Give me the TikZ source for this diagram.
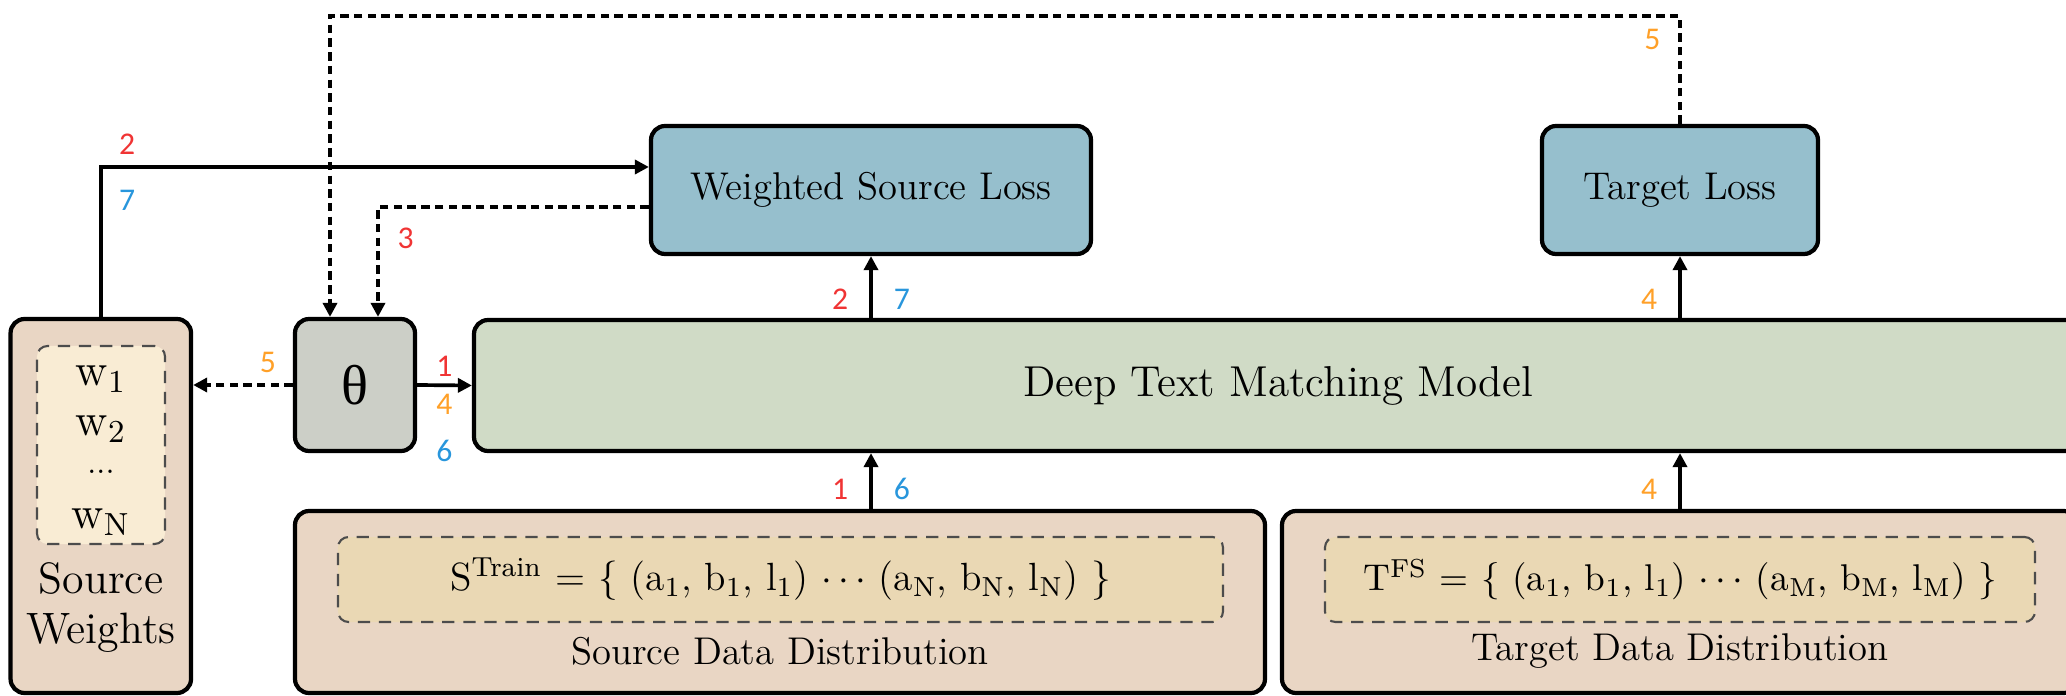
\documentclass[tikz,border=0pt]{standalone}
\usepackage{fontspec}
\usepackage{tikz}
\usetikzlibrary{arrows.meta}
\newfontfamily\numfont{Carlito}
\newfontfamily\greekfont{Liberation Serif}

\definecolor{lossblue}{RGB}{150,191,205}
\definecolor{modelgreen}{RGB}{208,219,198}
\definecolor{thetagray}{RGB}{204,207,199}
\definecolor{datatan}{RGB}{233,214,196}
\definecolor{setbeige}{RGB}{234,216,180}
\definecolor{weightcream}{RGB}{249,236,212}
\definecolor{stepred}{RGB}{240,52,52}
\definecolor{steporange}{RGB}{255,160,40}
\definecolor{stepblue}{RGB}{40,150,220}

\begin{document}
\begin{tikzpicture}[
    box/.style={draw,line width=1.2pt,rounded corners=4pt,align=center,inner sep=0pt},
    setbox/.style={draw=black!70,dash pattern=on 3.5pt off 2.5pt,line width=0.6pt,rounded corners=3pt,inner sep=0pt},
    arr/.style={line width=1.05pt,-{Triangle[length=4pt,width=4pt]}},
    darr/.style={arr,line width=1.1pt,dash pattern=on 2.4pt off 1.5pt},
    num/.style={font=\numfont\fontsize{9}{10}\selectfont,inner sep=1pt}]

    \clip (0,0) rectangle (20.66,-6.96);

    %==================== Source weights ====================
    \node[box,fill=datatan,minimum width=1.805cm,minimum height=3.74cm] (sw) at (1.008,-5.06) {};
    \node[setbox,fill=weightcream,minimum width=1.28cm,minimum height=1.98cm] (swset) at (1.01,-4.45) {};
    \foreach \n/\w/\y in {w1/w\textsubscript{1}/3.79, w2/w\textsubscript{2}/4.29, wd/{\fontsize{9}{10}\selectfont...}/4.72, wN/w\textsubscript{N}/5.22} {
      \node[font=\fontsize{13}{14}\selectfont,inner sep=1pt] (\n) at (1.01,-\y) {\w};
    }
    \node[align=center,font=\fontsize{12.5}{14}\selectfont] (swcap) at (1.01,-6.075) {Source\\Weights};

    %==================== Model and losses ====================
    \node[box,fill=thetagray,minimum width=1.2cm,minimum height=1.32cm,font=\greekfont\fontsize{16}{18}\selectfont] (theta) at (3.55,-3.85) {θ};
    \node[box,fill=modelgreen,minimum width=16.08cm,minimum height=1.31cm,font=\fontsize{12.3}{14}\selectfont] (dtmm) at (12.78,-3.855) {Deep Text Matching Model};
    \node[box,fill=lossblue,minimum width=4.40cm,minimum height=1.28cm,font=\fontsize{11}{13}\selectfont] (wsl) at (8.71,-1.90) {Weighted Source Loss};
    \node[box,fill=lossblue,minimum width=2.76cm,minimum height=1.28cm,font=\fontsize{11}{13}\selectfont] (tl) at (16.80,-1.90) {Target Loss};

    %==================== Data distributions ====================
    \node[box,fill=datatan,minimum width=9.70cm,minimum height=1.82cm] (sdd) at (7.80,-6.02) {};
    \node[setbox,fill=setbeige,minimum width=8.85cm,minimum height=0.85cm,font=\fontsize{11.2}{13}\selectfont] (sset) at (7.805,-5.795)
      {S\textsuperscript{Train} = \{ (a\textsubscript{1}, b\textsubscript{1}, l\textsubscript{1}) $\cdots$ (a\textsubscript{N}, b\textsubscript{N}, l\textsubscript{N}) \}};
    \node[font=\fontsize{11}{13}\selectfont] (sddcap) at (7.80,-6.51) {Source Data Distribution};

    \node[box,fill=datatan,minimum width=7.96cm,minimum height=1.82cm] (tdd) at (16.80,-6.02) {};
    \node[setbox,fill=setbeige,minimum width=7.10cm,minimum height=0.85cm,font=\fontsize{10.6}{13}\selectfont] (tset) at (16.80,-5.795)
      {T\textsuperscript{FS} = \{ (a\textsubscript{1}, b\textsubscript{1}, l\textsubscript{1}) $\cdots$ (a\textsubscript{M}, b\textsubscript{M}, l\textsubscript{M}) \}};
    \node[font=\fontsize{11}{13}\selectfont] (tddcap) at (16.80,-6.51) {Target Data Distribution};

    %==================== Connectors ====================
    \coordinate (loopTop) at (3.30,-0.16);

    % forward through the model
    \draw[arr] (theta.east) -- node[num,stepred,above=1pt] (s1a) {1}
      node[num,steporange,below=1pt] (s4a) {4} node[num,stepblue,below=14pt] (s6a) {6} (dtmm.west);
    \draw[arr] (sdd.north -| wsl.south) -- node[pos=0.35,num,stepred,left=5pt] (s1b) {1}
      node[pos=0.35,num,stepblue,right=5pt] (s6b) {6} (dtmm.south -| wsl.south);
    \draw[arr] (dtmm.north -| wsl.south) -- node[pos=0.3,num,stepred,left=5pt] (s2b) {2}
      node[pos=0.3,num,stepblue,right=5pt] (s7b) {7} (wsl.south);
    \draw[arr] (tdd.north) -- node[pos=0.35,num,steporange,left=5pt] (s4c) {4} (tdd.north |- dtmm.south);
    \draw[arr] (tl.south |- dtmm.north) -- node[pos=0.3,num,steporange,left=5pt] (s4d) {4} (tl.south);

    % weights into the weighted loss
    \draw[arr] (sw.north) |- node[pos=0.524,num,stepred,above=2pt] (s2a) {2}
      node[pos=0.524,num,stepblue,below=5pt] (s7a) {7} ([yshift=0.23cm]wsl.west);

    % gradients back to theta
    \draw[darr] ([yshift=-0.17cm]wsl.west) -| node[pos=0.643,num,stepred,right=4pt] (s3a) {3} ([xshift=0.23cm]theta.north);
    \draw[darr] (tl.north) |- node[pos=0.39,num,steporange,left=4pt] (s5a) {5} (loopTop) -- (loopTop |- theta.north);
    \draw[darr] (theta.west) -- node[pos=0.25,num,steporange,above=2pt] (s5b) {5} (theta.west -| sw.east);

\end{tikzpicture}
\end{document}
